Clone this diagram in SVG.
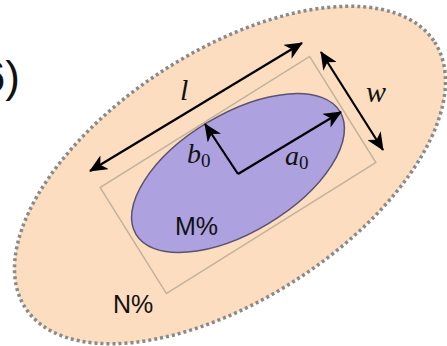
<svg xmlns="http://www.w3.org/2000/svg" width="447" height="346" viewBox="0 0 447 346">
  <style>
    .math { font-family: "Liberation Serif", "DejaVu Serif", serif; font-style: italic; fill: #111; }
    .sub { font-style: normal; }
    .pct { font-family: "Liberation Sans", Arial, sans-serif; fill: #111; }
    .arr { stroke: #000; stroke-width: 2.2; fill: none; marker-end: url(#ah); }
    .dbl { marker-start: url(#ah); }
  </style>
  <defs>
    <marker id="ah" viewBox="0 0 18 16" refX="17" refY="8" markerWidth="18" markerHeight="16" markerUnits="userSpaceOnUse" orient="auto-start-reverse">
      <path d="M0,0 L18,8 L0,16 L5,8 Z" fill="#000"/>
    </marker>
  </defs>
  <rect width="447" height="346" fill="#fff"/>
  <text x="20" y="92" class="pct" font-size="44" text-anchor="end">(6)</text>

  <g id="outer">
    <ellipse cx="230" cy="175" rx="244" ry="124" transform="rotate(-33 230 175)" fill="#FCDDBF" stroke="#8a8a8a" stroke-width="3.5" stroke-dasharray="3 3"/>
    <text x="113" y="313" class="pct" font-size="25">N%</text>
  </g>

  <g id="inner">
    <ellipse cx="238" cy="173" rx="119" ry="59" transform="rotate(-31 238 173)" fill="#ADA2DF" stroke="#5b5270" stroke-width="1.5"/>
    <text x="175" y="235" class="pct" font-size="25">M%</text>
  </g>

  <g id="box">
    <rect x="114.5" y="112.5" width="247" height="125" transform="rotate(-32 238 175)" fill="none" stroke="#C2B29E" stroke-width="1.5"/>
  </g>

  <g id="connectors">
    <line x1="90" y1="171" x2="302" y2="43" class="arr dbl"/>
    <line x1="321" y1="52" x2="383" y2="150" class="arr dbl"/>
    <line x1="238" y1="174" x2="341" y2="112" class="arr"/>
    <line x1="238" y1="174" x2="205" y2="124" class="arr"/>
  </g>

  <g id="labels">
    <text x="180" y="100" class="math" font-size="30">l</text>
    <text x="366" y="102" class="math" font-size="30">w</text>
    <text x="285" y="165" class="math" font-size="28">a<tspan class="sub" font-size="19" dy="4">0</tspan></text>
    <text x="187" y="163" class="math" font-size="28">b<tspan class="sub" font-size="19" dy="4">0</tspan></text>
  </g>
</svg>
